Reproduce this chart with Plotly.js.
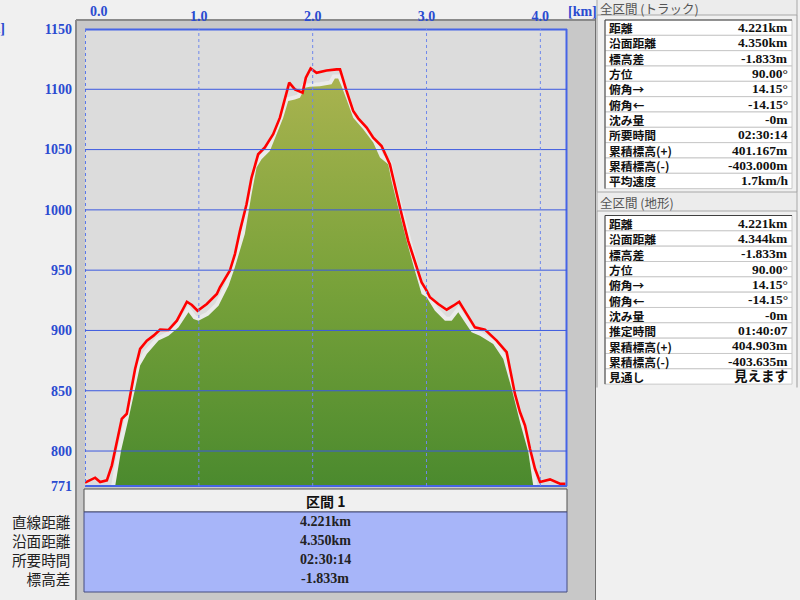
<!DOCTYPE html>
<html><head><meta charset="utf-8">
<script src="https://cdn.plot.ly/plotly-3.0.1.min.js"></script>
<style>html,body{margin:0;padding:0;background:#f0f0f0;}#chart{width:800px;height:600px;}</style>
</head><body><div id="chart"></div>
<script>
// ---- data ----
const trackDist=[0.00,0.089,0.133,0.192,0.236,0.279,0.323,0.367,0.405,0.440,0.484,0.543,0.602,0.660,0.734,0.807,0.895,0.939,0.989,1.070,1.158,1.185,1.272,1.317,1.361,1.419,1.463,1.521,1.580,1.653,1.712,1.756,1.794,1.844,1.911,1.940,1.982,2.034,2.122,2.210,2.240,2.298,2.356,2.400,2.474,2.532,2.605,2.678,2.737,2.781,2.839,2.898,2.957,3.001,3.030,3.103,3.177,3.235,3.287,3.352,3.425,3.513,3.616,3.704,3.748,3.777,3.821,3.865,3.909,3.953,3.997,4.085,4.172,4.221];
const trackElev=[773.8,777.9,774.3,775.7,788.1,807.5,826.7,830.9,851.6,868.1,884.7,891.6,895.7,900.7,900.4,908.1,923.8,921.1,916.4,921.9,930.2,935.8,949.5,963.3,982.6,1004.7,1026.8,1046.1,1051.7,1062.7,1076.5,1093,1105.5,1099.9,1097.2,1109.6,1117.3,1113.7,1115.6,1116.5,1116.5,1098.5,1082,1075.9,1068.2,1059.9,1053,1037.8,1013,996.4,974.3,957.8,939.9,933,927.5,921.9,917.2,920.5,923.8,913.7,902.6,900.7,891.6,882,862.6,847.4,832.3,821.2,801.9,785.3,774.3,776.5,772.9,772.9];
const terrDist=[0.265,0.317,0.382,0.440,0.484,0.543,0.646,0.734,0.822,0.909,0.953,0.997,1.085,1.173,1.261,1.316,1.404,1.463,1.507,1.551,1.624,1.683,1.741,1.785,1.844,1.888,1.932,1.975,2.063,2.166,2.195,2.224,2.254,2.298,2.356,2.444,2.532,2.591,2.663,2.693,2.751,2.825,2.898,2.957,3.001,3.074,3.162,3.221,3.279,3.337,3.396,3.469,3.586,3.674,3.748,3.821,3.894,3.938];
const terrElev=[771,800.5,826.7,851.6,870.9,880.5,891.6,895.7,902.6,915.1,909.5,908.1,912.3,920.5,937.1,952.3,979.9,1013,1035.1,1042,1048.8,1062.7,1076.5,1090.2,1091.6,1093,1101.3,1102.2,1102.6,1104.1,1109,1109,1102.6,1091.6,1076.5,1066.8,1055.8,1043.4,1037.8,1024,1002,974.3,949.5,930.2,927.5,916.4,908.1,908.1,915.1,906.8,898.5,895.7,888.8,876.4,851.6,824,799.2,771];
const yTickVals=[771,800,850,900,950,1000,1050,1100,1150];
const yGridVals=[800,850,900,950,1000,1050,1100];
const xTickVals=[1,2,3,4];
const xTickText=['1.0','2.0','3.0','4.0'];
const xFirstLabel='0.0';
const xUnit='[km]';
const yUnit='[m]';
const trackHeader='全区間 (トラック)';
const trackLabels=['距離','沿面距離','標高差','方位','俯角→','俯角←','沈み量','所要時間','累積標高(+)','累積標高(-)','平均速度'];
const trackValues=['4.221km','4.350km','-1.833m','90.00°','14.15°','-14.15°','-0m','02:30:14','401.167m','-403.000m','1.7km/h'];
const terrHeader='全区間 (地形)';
const terrLabels=['距離','沿面距離','標高差','方位','俯角→','俯角←','沈み量','推定時間','累積標高(+)','累積標高(-)','見通し'];
const terrValues=['4.221km','4.344km','-1.833m','90.00°','14.15°','-14.15°','-0m','01:40:07','404.903m','-403.635m','見えます'];
const sectionTitle='区間 1';
const sectionLabels=['直線距離','沿面距離','所要時間','標高差'];
const sectionValues=['4.221km','4.350km','02:30:14','-1.833m'];

// ---- layout helpers ----
const W=800,H=600,L=85,R=233,T=29,B=114;
const PW=W-L-R, PH=H-T-B;
const px=x=>(x-L)/PW, py=y=>(H-B-y)/PH;
const CJK='"Noto Sans CJK JP", sans-serif';
const NUM='"Liberation Serif", "Noto Sans CJK JP", serif';
const BLUE='#2a4bd0';
const shapes=[], ann=[];
function rect(x0,y0,x1,y1,fill,lc,lw,layer,dash){
  shapes.push({type:'rect',xref:'paper',yref:'paper',x0:px(x0),x1:px(x1),y0:py(y1),y1:py(y0),
    fillcolor:fill||'rgba(0,0,0,0)',line:{color:lc||'rgba(0,0,0,0)',width:lw||0,dash:dash||'solid'},layer:layer||'below'});
}
function pline(x0,y0,x1,y1,c,w,layer,dash){
  shapes.push({type:'line',xref:'paper',yref:'paper',x0:px(x0),x1:px(x1),y0:py(y0),y1:py(y1),
    line:{color:c,width:w,dash:dash||'solid'},layer:layer||'below'});
}
function text(t,x,y,xa,opt){
  opt=opt||{};
  ann.push({text:t,xref:'paper',yref:'paper',x:px(x),y:py(y),xanchor:xa,yanchor:'middle',showarrow:false,
    borderpad:0,align:opt.align||xa,
    font:{family:opt.family||CJK,size:opt.size||13,color:opt.color||'#111',weight:opt.weight||'normal'}});
}

// gray panel around plot
rect(76,20,595,600,'#c8c8c8');
pline(76,20,595,20,'#8a8a8a',2);
pline(76,20,76,600,'#8a8a8a',2);
pline(595.5,18,595.5,600,'#707070',1);
// plot background
rect(85,29,567,486,'#dcdcdc');
// plot border
pline(85,29.5,567,29.5,'#4664e6',2,'above');
pline(566.5,29,566.5,486,'#4664e6',2,'above');
pline(85,486,567,486,'#4664e6',2,'above');
pline(85.5,29,85.5,486,'#5a78ea',1,'above','dot');
// grid lines over fill
yGridVals.forEach(v=>shapes.push({type:'line',xref:'paper',yref:'y',x0:0,x1:1,y0:v,y1:v,line:{color:'#3c5ae0',width:1},layer:'above'}));
xTickVals.forEach(v=>shapes.push({type:'line',xref:'x',yref:'paper',x0:v,x1:v,y0:0,y1:1,line:{color:'#6f88ec',width:1,dash:'dot'},layer:'above'}));

// axis extra labels
ann.push({text:xFirstLabel,xref:'x',yref:'paper',x:0,y:py(12),xanchor:'left',yanchor:'middle',xshift:3,showarrow:false,font:{family:NUM,size:14,color:BLUE,weight:'bold'}});
text(xUnit,567,12,'left',{family:NUM,size:14,color:BLUE,weight:'bold'});
text(yUnit,6,28,'right',{family:NUM,size:14,color:BLUE,weight:'bold'});

// right panel tables
function table(header,hy0,hy1,labels,values,top){
  rect(597,hy0,797,hy1,'#ececec','#a8a8a8',1);
  text(header,599,(hy0+hy1)/2+1,'left',{size:12.5,color:'#555'});
  pline(597,hy1,597,top+172,'#9a9a9a',1);
  pline(797,hy1,797,top+172,'#9a9a9a',1);
  const pitch=15.33;
  labels.forEach((lab,i)=>{
    const y0=top+i*pitch;
    rect(605,y0,792,y0+pitch,'#ffffff','#c8c8c8',1);
    text(values[i],789,y0+pitch/2,'right',{family:NUM,size:13.5,weight:'bold',color:'#111'});
  });
  // labels as one block, line pitch = 1.3 * size
  text(labels.join('<br>'),608,top+11*pitch/2,'left',{size:pitch/1.3,weight:'bold',color:'#111'});
  pline(605,top,605,top+11*pitch,'#404040',1);
  pline(605,top,792,top,'#404040',1);
}
table(trackHeader,-1,15,trackLabels,trackValues,20);
table(terrHeader,192,211,terrLabels,terrValues,215.5);

// bottom section table
rect(84,489,567,512,'#f0f0f0','#505050',1);
text(sectionTitle,325,500.5,'center',{size:14,weight:'bold',color:'#111'});
rect(84,512,567,592,'#a7b5f9','#454d80',1);
const secY=[521,540,559,578];
text(sectionLabels.join('<br>'),72,(secY[0]+secY[3])/2,'right',{size:19/1.3,color:'#222'});
sectionValues.forEach((v,i)=>{
  text(v,325,secY[i],'center',{family:NUM,size:14,weight:'bold',color:'#222'});
});

const traces=[
  {x:terrDist,y:terrElev,mode:'lines',line:{color:'#ebebeb',width:8},hoverinfo:'skip'},
  {x:terrDist,y:terrElev,mode:'none',fill:'tozeroy',
   fillgradient:{type:'vertical',start:771,stop:1109,colorscale:[[0,'#4b8a2e'],[0.5,'#79a23a'],[1,'#a9b34f']]},hoverinfo:'skip'},
  {x:trackDist,y:trackElev,mode:'lines',line:{color:'#ff0000',width:2.6},hoverinfo:'skip'}
];

const layout={
  width:W,height:H,showlegend:false,
  paper_bgcolor:'#f0f0f0',plot_bgcolor:'rgba(0,0,0,0)',
  margin:{l:L,r:R,t:T,b:B,pad:0},
  xaxis:{range:[0,4.234],side:'top',tickvals:xTickVals,ticktext:xTickText,showgrid:false,zeroline:false,
    ticks:'',showline:false,ticklabelstandoff:4,automargin:false,fixedrange:true,
    tickfont:{family:NUM,size:14,color:BLUE,weight:'bold'}},
  yaxis:{range:[771,1150],tickvals:yTickVals,showgrid:false,zeroline:false,ticks:'',showline:false,
    ticklabelstandoff:12,automargin:false,fixedrange:true,
    tickfont:{family:NUM,size:14,color:BLUE,weight:'bold'}},
  shapes:shapes,annotations:ann
};
Plotly.newPlot('chart',traces,layout,{staticPlot:true,displayModeBar:false});
</script></body></html>
